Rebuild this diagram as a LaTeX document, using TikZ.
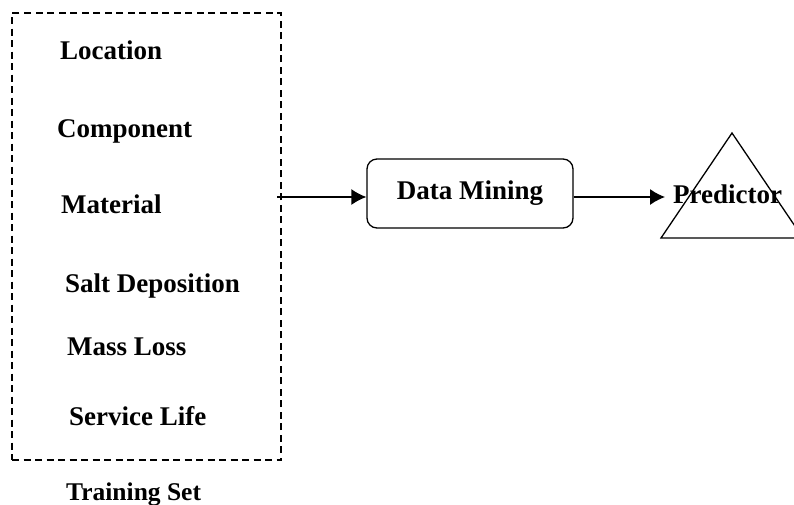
\documentclass[tikz,border=0pt]{standalone}
\usepackage{fontspec}
\setmainfont{Liberation Serif}
\usetikzlibrary{arrows.meta}
\begin{document}
\begin{tikzpicture}[x=1pt,y=-1pt]
	\tikzstyle{attr} = [anchor=base west, inner sep=0pt, font=\fontsize{27}{32}\selectfont\bfseries]
	\tikzstyle{trainbox} = [draw, dash pattern=on 7pt off 4.5pt, line width=1.3pt, minimum width=269pt, minimum height=447pt, inner sep=0pt, outer sep=0pt]
	\tikzstyle{dmbox} = [draw, rounded corners=10pt, line width=1.3pt, minimum width=206pt, minimum height=69pt, font=\fontsize{27}{32}\selectfont\bfseries]
	\tikzstyle{edge} = [line width=1.3pt, -{Latex[length=15pt,width=16pt]}]
	\useasboundingbox (0,0) rectangle (794,504);

	% training set
	\node[trainbox] (train) at (146.5,236.5) {};
	\foreach \name/\txt/\x/\y in {loc/Location/60/59, comp/Component/57/137, mat/Material/61/213, salt/Salt Deposition/65/292, mass/Mass Loss/67/355, life/Service Life/69/425}
		\node[attr] (\name) at (\x,\y) {\txt};
	\node[attr, font=\fontsize{25.5}{30}\selectfont\bfseries] (trainlbl) at (66,500) {Training Set};

	% mining and predictor
	\coordinate (src) at (277,197);
	\node[dmbox] (dm) at (470,193.5) {Data Mining};
	\draw[line width=1.3pt] (732,133) -- (661,238) -- (803,238) -- cycle;
	\node[attr, inner xsep=8pt] (pred) at (665,203) {Predictor};

	\draw[edge] (src) -- (src -| dm.west);
	\draw[edge] (src -| dm.east) -- (src -| pred.west);
\end{tikzpicture}
\end{document}
